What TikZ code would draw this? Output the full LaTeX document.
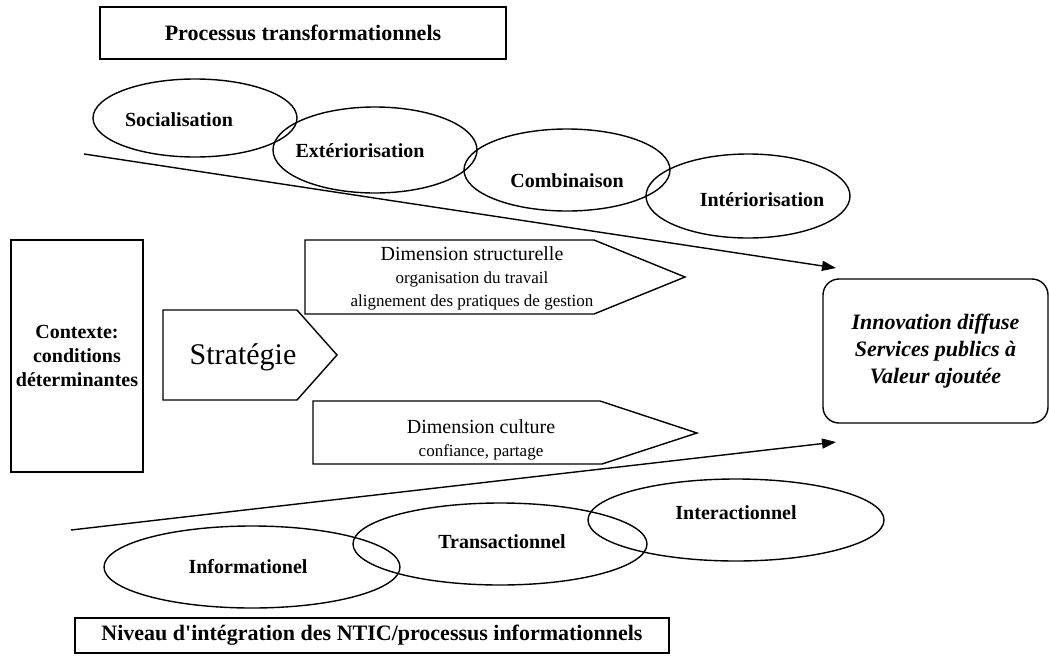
\documentclass[tikz,border=0pt]{standalone}
\usepackage{fontspec}
\setmainfont{Liberation Serif}
\usetikzlibrary{shapes.geometric,arrows.meta}

\begin{document}
\begin{tikzpicture}[x=1pt, y=-1pt, line width=1.4pt,
  phase/.style={draw, ellipse, inner sep=0pt},
  phaselabel/.style={font=\fontsize{20}{24}\selectfont\bfseries},
  titlebox/.style={draw, inner sep=0pt, font=\fontsize{22}{26}\selectfont\bfseries},
  dimtext/.style={align=center, font=\fontsize{20}{23}\selectfont},
  flow/.style={-{Triangle[length=14pt,width=10pt]}}]
\useasboundingbox (0,0) rectangle (1049,656);
% titles
\node[titlebox, minimum width=406pt, minimum height=52pt] (ttop) at (303,33) {Processus transformationnels\hspace{24pt}};
\node[titlebox, minimum width=594pt, minimum height=35pt] (tbot) at (372,635.5) {Niveau d\textquotesingle intégration des NTIC/processus informationnels};
% transformational processes
\node[phase, minimum width=204pt, minimum height=78pt] (soc) at (195,118) {};
\node[phase, minimum width=204pt, minimum height=86pt] (ext) at (375,150) {};
\node[phase, minimum width=206pt, minimum height=82pt] (comb) at (567,170) {};
\node[phase, minimum width=204pt, minimum height=84pt] (inter) at (748,196) {};
\node[phaselabel] (socl) at (179,120) {Socialisation};
\node[phaselabel] (extl) at (360,151) {Extériorisation};
\node[phaselabel] (combl) at (567,181) {Combinaison};
\node[phaselabel] (interl) at (762,200) {Intériorisation};
% informational levels
\node[phase, minimum width=296pt, minimum height=82pt] (info) at (252,567) {};
\node[phase, minimum width=294pt, minimum height=82pt] (trans) at (500,544) {};
\node[phase, minimum width=296pt, minimum height=82pt] (interact) at (736,520) {};
\node[phaselabel] (infol) at (248,567) {Informationel};
\node[phaselabel] (transl) at (502,542) {Transactionnel};
\node[phaselabel] (interactl) at (736,513) {Interactionnel};
% context and result
\node[draw, inner sep=2pt, minimum width=132pt, minimum height=232pt, align=center, font=\fontsize{20}{24}\selectfont\bfseries] (ctx) at (77,356) {Contexte:\\conditions\\déterminantes};
\node[draw, rounded corners=16pt, minimum width=225pt, minimum height=144pt, align=center, font=\fontsize{22}{27}\selectfont\bfseries\itshape] (innov) at (935.5,351) {Innovation diffuse\\Services publics à\\Valeur ajoutée};
% strategy arrows
\draw (163,310) -- (297,310) -- (337,355) -- (297,400) -- (163,400) -- cycle;
\node[font=\fontsize{30}{36}\selectfont] (strat) at (243,357) {Stratégie};
\draw (305,240) -- (594,240) -- (685,277) -- (594,314) -- (305,314) -- cycle;
\node[dimtext] (dstruct) at (472,278) {Dimension structurelle\\{\fontsize{17}{23}\selectfont organisation du travail}\\{\fontsize{17}{23}\selectfont alignement des pratiques de gestion}};
\draw (313,401) -- (600,401) -- (697,433) -- (602,464) -- (313,464) -- cycle;
\node[dimtext] (dcult) at (481,440) {Dimension culture\\{\fontsize{17}{23}\selectfont confiance, partage}};
% flows toward innovation
\coordinate (tstart) at (84,154);
\coordinate (tend) at (836,268);
\coordinate (bstart) at (71,530);
\coordinate (bend) at (836,442);
\draw[flow] (tstart) -- (tend);
\draw[flow] (bstart) -- (bend);
\end{tikzpicture}
\end{document}
